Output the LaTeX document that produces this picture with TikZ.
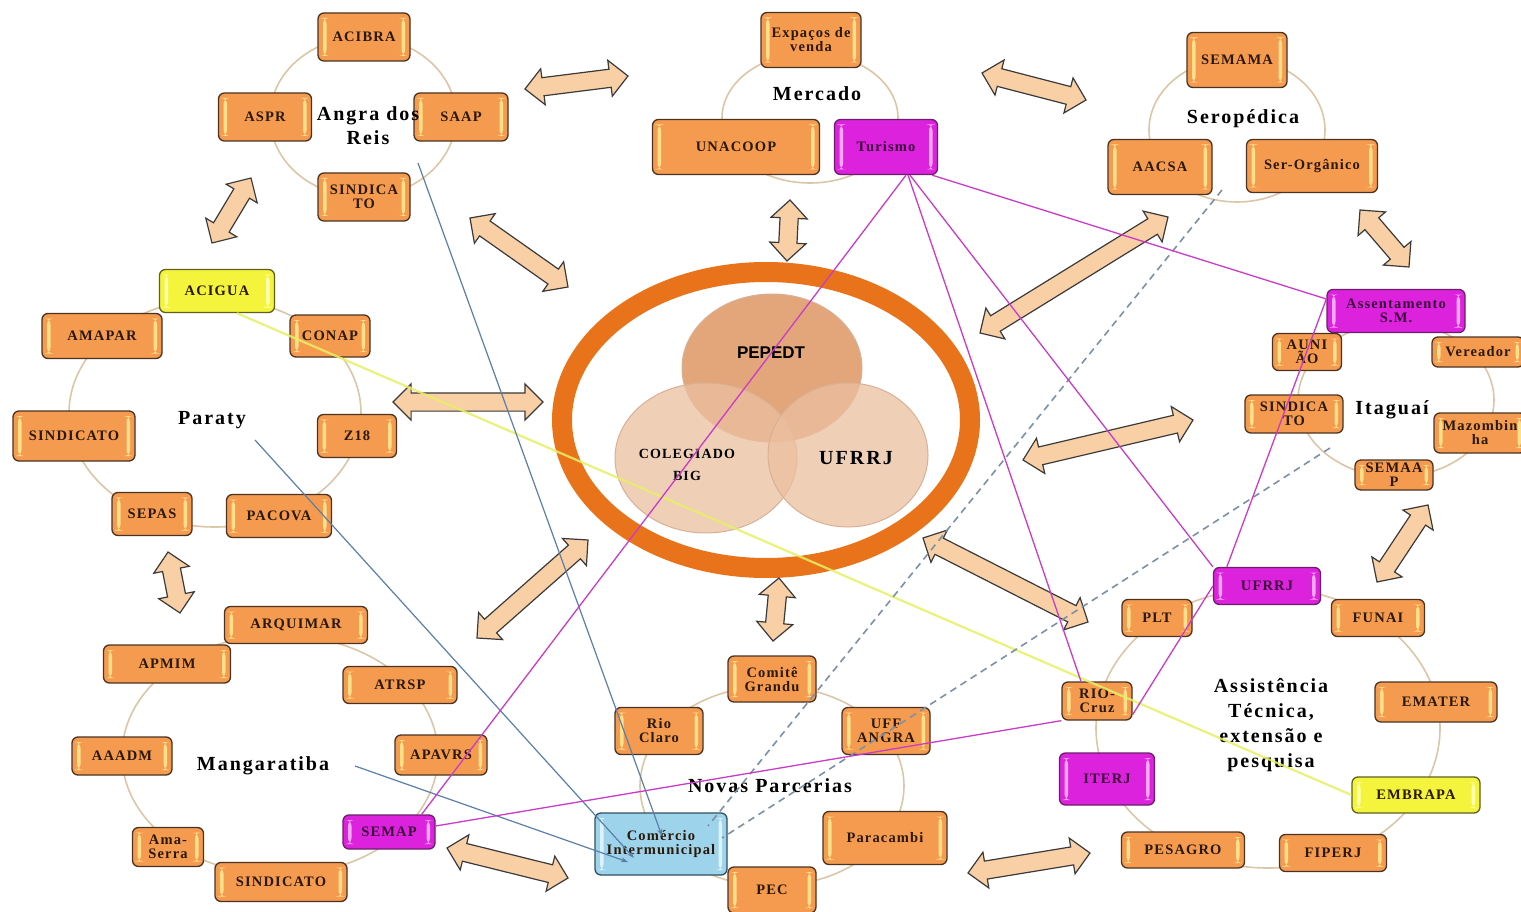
\documentclass[tikz,border=0pt]{standalone}
\usepackage{fontspec}
\setmainfont{Liberation Serif}
\newfontfamily\boxfnt[LetterSpace=8]{Liberation Serif}
\newfontfamily\titfnt[LetterSpace=10]{Liberation Serif}
\newfontfamily\pepfnt{Liberation Sans}
\usetikzlibrary{calc,shapes.arrows,arrows.meta}
\newcommand\bxfont{\boxfnt\bfseries\fontsize{14.5}{14}\selectfont}
\newcommand\tifont{\titfnt\bfseries\fontsize{20}{24}\selectfont}
\definecolor{boxor}{HTML}{F59B50}
\definecolor{obord}{HTML}{4A3322}
\definecolor{stripeO}{HTML}{FFE08A}
\definecolor{boxmag}{HTML}{DD22DD}
\definecolor{mbord}{HTML}{6B1F6B}
\definecolor{stripeM}{HTML}{F7A8F7}
\definecolor{mtxt}{HTML}{3A0A3A}
\definecolor{boxyel}{HTML}{F4F43C}
\definecolor{ybord}{HTML}{5F5F22}
\definecolor{stripeY}{HTML}{FFFFB0}
\definecolor{boxcyan}{HTML}{9ED3EC}
\definecolor{cbord}{HTML}{30505F}
\definecolor{stripeC}{HTML}{DDF3FB}
\definecolor{txtc}{HTML}{2A1808}
\definecolor{circl}{HTML}{DCC6A8}
\definecolor{ringc}{HTML}{E8731A}
\definecolor{vpep}{HTML}{E09D6C}
\definecolor{vlight}{HTML}{ECBFA0}
\definecolor{vedge}{HTML}{D8B195}
\definecolor{arrfill}{HTML}{F9CFA6}
\definecolor{arrline}{HTML}{3A3A3A}
\definecolor{magl}{HTML}{C83CC8}
\definecolor{bluel}{HTML}{5B7FA8}
\definecolor{dashl}{HTML}{7D90A6}
\definecolor{yell}{HTML}{E6F065}
\tikzset{
  basebox/.style={rounded corners=6pt, line width=1.3pt, align=center, inner sep=1pt,
    font=\bxfont, text=txtc,
    path picture={
      \fill[#1] ([xshift=5pt,yshift=-5pt]path picture bounding box.north west) rectangle ([xshift=8.5pt,yshift=5pt]path picture bounding box.south west);
      \fill[#1] ([xshift=-8.5pt,yshift=-5pt]path picture bounding box.north east) rectangle ([xshift=-5pt,yshift=5pt]path picture bounding box.south east);}},
  obox/.style={basebox=stripeO, draw=obord, fill=boxor},
  mbox/.style={basebox=stripeM, draw=mbord, fill=boxmag, text=mtxt},
  ybox/.style={basebox=stripeY, draw=ybord, fill=boxyel},
  cbox/.style={basebox=stripeC, draw=cbord, fill=boxcyan},
  clring/.style={draw=circl, line width=1.6pt},
  tit/.style={font=\tifont, align=center, text=black},
  twarrow/.style={double arrow, draw=arrline, fill=arrfill, line width=1.2pt,
    inner xsep=0pt, inner ysep=8.5pt, minimum width=0pt, double arrow head extend=9pt, double arrow tip angle=90},
  magline/.style={draw=magl, line width=1.3pt},
  blueline/.style={draw=bluel, line width=1.2pt, -{Stealth[length=7pt,width=5pt]}},
  dashline/.style={draw=dashl, line width=1.6pt, dash pattern=on 7pt off 5pt},
  yelline/.style={draw=yell, line width=2.2pt, opacity=.85},
}
\newcommand\twoway[3]{%
  \coordinate (#1a) at (#2);
  \coordinate (#1b) at (#3);
  \path let \p1=(#1a), \p2=(#1b), \n1={atan2(\y2-\y1,\x2-\x1)}, \n2={veclen(\x2-\x1,\y2-\y1)} in
    node[twarrow, minimum height=\n2, rotate=\n1] (#1) at ($(#1a)!0.5!(#1b)$) {};
}
\begin{document}
\begin{tikzpicture}[x=1pt,y=-1pt]
\useasboundingbox (0,0) rectangle (1521,912);
\clip (0,0) rectangle (1521,912);
\fill[white] (0,0) rectangle (1521,912);

% cluster circles
\draw[clring] (363,117) ellipse [x radius=93pt, y radius=80pt];
\draw[clring] (810,118) ellipse [x radius=88pt, y radius=65pt];
\draw[clring] (1237,130) ellipse [x radius=88pt, y radius=72pt];
\draw[clring] (215,413) ellipse [x radius=146pt, y radius=114pt];
\draw[clring] (280,755) ellipse [x radius=158pt, y radius=120pt];
\draw[clring] (772,786) ellipse [x radius=132pt, y radius=100pt];
\draw[clring] (1396,400) ellipse [x radius=98pt, y radius=77pt];
\draw[clring] (1268,728) ellipse [x radius=172pt, y radius=140pt];

% central ring and venn
\draw[ringc, line width=20pt] (766,420) ellipse [x radius=204pt, y radius=148pt];
\filldraw[fill=vpep, draw=vedge, fill opacity=.9, line width=1pt] (772,368) ellipse [x radius=90pt, y radius=74pt];
\filldraw[fill=vlight, draw=vedge, fill opacity=.75, line width=1pt] (706,458) ellipse [x radius=91pt, y radius=75pt];
\filldraw[fill=vlight, draw=vedge, fill opacity=.75, line width=1pt] (848,455) ellipse [x radius=80pt, y radius=72pt];
\node[font=\pepfnt\bfseries\fontsize{17}{17}\selectfont, text=black] (pepT) at (771,353) {PEPEDT};
\node[font=\boxfnt\bfseries\fontsize{14}{22}\selectfont, align=center, text=black] (colT) at (687,465) {COLEGIADO\\BIG};
\node[tit] (ufT) at (856,458) {UFRRJ};

% block double arrows
\twoway{ar1}{525,89}{628,76}
\twoway{ar2}{982,73}{1086,100}
\twoway{ar3}{251,178}{212,243}
\twoway{ar4}{470,218}{568,287}
\twoway{ar5}{790,200}{787,261}
\twoway{ar6}{980,333}{1168,217}
\twoway{ar7}{1360,210}{1409,267}
\twoway{ar8}{393,402}{543,402}
\twoway{ar9}{1023,460}{1193,420}
\twoway{ar10}{168,552}{180,613}
\twoway{ar11}{477,638}{588,540}
\twoway{ar12}{779,578}{773,641}
\twoway{ar13}{923,538}{1088,622}
\twoway{ar14}{1428,505}{1377,582}
\twoway{ar15}{447,848}{568,878}
\twoway{ar16}{968,873}{1090,853}

% Angra dos Reis
\node[obox, minimum width=92, minimum height=48] (acibra) at (364,37) {ACIBRA};
\node[obox, minimum width=93, minimum height=48] (aspr) at (265,117) {ASPR};
\node[obox, minimum width=94, minimum height=48] (saap) at (461,117) {SAAP};
\node[obox, minimum width=92, minimum height=48] (sindA) at (364,197) {SINDICA\\TO};
% Mercado
\node[obox, minimum width=100, minimum height=55] (expacos) at (811,40) {Expaços de\\venda};
\node[obox, minimum width=167, minimum height=55] (unacoop) at (736,147) {UNACOOP};
\node[mbox, minimum width=103, minimum height=55] (tur) at (886,147) {Turismo};
% Seropedica
\node[obox, minimum width=100, minimum height=55] (semama) at (1237,60) {SEMAMA};
\node[obox, minimum width=104, minimum height=55] (aacsa) at (1160,167) {AACSA};
\node[obox, minimum width=131, minimum height=53] (serorg) at (1312,166) {Ser-Orgânico};
% Paraty
\node[ybox, minimum width=115, minimum height=43] (acigua) at (217,291) {ACIGUA};
\node[obox, minimum width=120, minimum height=45] (amapar) at (102,336) {AMAPAR};
\node[obox, minimum width=80, minimum height=42] (conap) at (330,336) {CONAP};
\node[obox, minimum width=122, minimum height=50] (sindP) at (74,436) {SINDICATO};
\node[obox, minimum width=79, minimum height=43] (z18) at (357,436) {Z18};
\node[obox, minimum width=80, minimum height=43] (sepas) at (152,514) {SEPAS};
\node[obox, minimum width=105, minimum height=43] (pacova) at (279,516) {PACOVA};
% Mangaratiba
\node[obox, minimum width=143, minimum height=37] (arquimar) at (296,625) {ARQUIMAR};
\node[obox, minimum width=127, minimum height=38] (apmim) at (167,664) {APMIM};
\node[obox, minimum width=114, minimum height=37] (atrsp) at (400,685) {ATRSP};
\node[obox, minimum width=100, minimum height=38] (aaadm) at (122,756) {AAADM};
\node[obox, minimum width=92, minimum height=40] (apavrs) at (441,755) {APAVRS};
\node[mbox, minimum width=92, minimum height=34] (semap) at (389,832) {SEMAP};
\node[obox, minimum width=71, minimum height=39] (amaserra) at (168,847) {Ama-\\Serra};
\node[obox, minimum width=132, minimum height=39] (sindM) at (281,882) {SINDICATO};
% Novas Parcerias
\node[obox, minimum width=88, minimum height=46] (comite) at (772,679) {Comitê\\Grandu};
\node[obox, minimum width=88, minimum height=47] (rioclaro) at (659,731) {Rio\\Claro};
\node[obox, minimum width=88, minimum height=47] (uff) at (886,731) {UFF\\ANGRA};
\node[cbox, minimum width=132, minimum height=62] (comercio) at (661,844) {Comércio\\Intermunicipal};
\node[obox, minimum width=124, minimum height=53] (paracambi) at (885,838) {Paracambi};
\node[obox, minimum width=88, minimum height=46] (pec) at (772,890) {PEC};
% Itaguai
\node[mbox, minimum width=138, minimum height=43] (assent) at (1396,311) {Assentamento\\S.M.};
\node[obox, minimum width=69, minimum height=37] (auniao) at (1307,352) {AUNI\\ÃO};
\node[obox, minimum width=92, minimum height=30] (vereador) at (1478,352) {Vereador};
\node[obox, minimum width=98, minimum height=38] (sindI) at (1294,414) {SINDICA\\TO};
\node[obox, minimum width=92, minimum height=40] (mazomb) at (1480,433) {Mazombin\\ha};
\node[obox, minimum width=78, minimum height=30] (semaap) at (1394,475) {SEMAA\\P};
% Assistencia
\node[mbox, minimum width=107, minimum height=37] (ufa) at (1267,586) {UFRRJ};
\node[obox, minimum width=70, minimum height=37] (plt) at (1157,618) {PLT};
\node[obox, minimum width=93, minimum height=37] (funai) at (1378,618) {FUNAI};
\node[obox, minimum width=70, minimum height=38] (rio) at (1097,701) {RIO-\\Cruz};
\node[obox, minimum width=122, minimum height=40] (emater) at (1436,702) {EMATER};
\node[mbox, minimum width=95, minimum height=52] (iterj) at (1107,779) {ITERJ};
\node[ybox, minimum width=128, minimum height=36] (embrapa) at (1416,795) {EMBRAPA};
\node[obox, minimum width=123, minimum height=36] (pesagro) at (1183,850) {PESAGRO};
\node[obox, minimum width=107, minimum height=37] (fiperj) at (1333,853) {FIPERJ};

% cluster titles
\node[tit] (angraL) at (368,126) {Angra dos\\Reis};
\node[tit] (mercL) at (817,94) {Mercado};
\node[tit] (seroL) at (1243,119) {Seropédica};
\node[tit] (paratyL) at (212,420) {Paraty};
\node[tit] (mangL) at (263,766) {Mangaratiba};
\node[tit] (novasL) at (770,786) {Novas Parcerias};
\node[tit] (itaL) at (1392,410) {Itaguaí};
\node[tit, font=\titfnt\bfseries\fontsize{20}{25}\selectfont] (assistL) at (1271,725) {Assistência\\Técnica,\\extensão e\\pesquisa};

% free line ends
\coordinate (angraS) at (418,163);
\coordinate (paratyS) at (255,440);
\coordinate (mangS) at (355,766);
\coordinate (seroS) at (1222,190);
\coordinate (itaS) at (1330,448);
\coordinate (cmA) at (662,836);
\coordinate (cmP) at (634,858);
\coordinate (cmM) at (628,862);
\coordinate (cmD1) at (708,826);
\coordinate (cmD2) at (722,838);

% connectors
\draw[yelline] ($(acigua.south)+(20,0)$) -- (embrapa.west);
\draw[dashline] (seroS) -- (cmD1);
\draw[dashline] (itaS) -- (cmD2);
\draw[blueline] (angraS) -- (cmA);
\draw[blueline] (paratyS) -- (cmP);
\draw[blueline] (mangS) -- (cmM);
\draw[magline] ($(tur.south)+(20,0)$) -- ($(semap.north east)+(-14,0)$);
\draw[magline] ($(tur.south)+(22,0)$) -- ($(rio.north)+(-16,0)$);
\draw[magline] ($(tur.south)+(24,0)$) -- (ufa.north west);
\draw[magline] ($(tur.south east)+(-6,0)$) -- ($(assent.west)+(0,-12)$);
\draw[magline] ($(assent.west)+(0,-12)$) -- ($(ufa.north west)+(14,0)$);
\draw[magline] (ufa.west) -- ($(rio.south east)+(0,-6)$);
\draw[magline] (rio.south west) -- ($(semap.east)+(0,-6)$);
\end{tikzpicture}
\end{document}
